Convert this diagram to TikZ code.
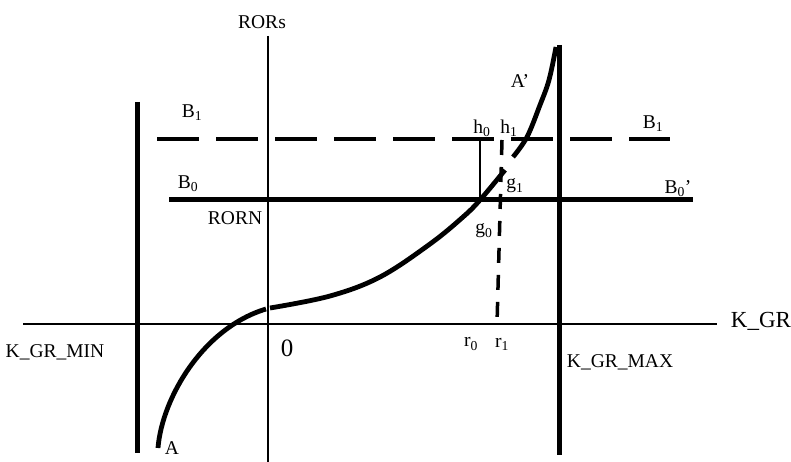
\documentclass[tikz,border=0pt]{standalone}
\usepackage{fontspec}
\setmainfont{Liberation Serif}
\begin{document}
\begin{tikzpicture}[x=1pt,y=-1pt,
  axisline/.style={line width=1.8pt},
  boundline/.style={line width=5pt},
  curveline/.style={line width=4.8pt},
  dashline/.style={line width=4.5pt, dash pattern=on 42pt off 17pt},
  rdash/.style={line width=3.5pt, dash pattern=on 15pt off 12pt},
  thinline/.style={line width=2.5pt},
  lbl/.style={inner sep=0pt, font=\fontsize{19.5}{22}\selectfont},
  biglbl/.style={inner sep=0pt, font=\fontsize{23}{26}\selectfont},
  zerolbl/.style={inner sep=0pt, font=\fontsize{25}{28}\selectfont},
]
\useasboundingbox (0,0) rectangle (791,462);
% key points
\coordinate (ytop) at (268,36);
\coordinate (ybot) at (268,462);
\coordinate (xl) at (23,324);
\coordinate (xr) at (717,324);
\coordinate (mintop) at (137,102);
\coordinate (minbot) at (137,453);
\coordinate (maxtop) at (559,45);
\coordinate (maxbot) at (559,455);
\coordinate (b0l) at (169,200);
\coordinate (b0r) at (693,200);
\coordinate (b1l) at (157,139);
\coordinate (b1r) at (670,139);
\coordinate (h0t) at (480,139);
\coordinate (h0b) at (480,200);
\coordinate (r1t) at (502,140);
\coordinate (r1b) at (497,324);
\coordinate (ca) at (158,448);
\coordinate (cy1) at (266,309);
\coordinate (cy2) at (270,308);
\coordinate (cg) at (505,170);
\coordinate (ch) at (513,157);
\coordinate (cap) at (556,47);
% axes
\draw[axisline] (ytop) -- (ybot);
\draw[axisline] (xl) -- (xr);
% bounds
\draw[boundline] (mintop) -- (minbot);
\draw[boundline] (maxtop) -- (maxbot);
% B lines
\draw[boundline] (b0l) -- (b0r);
\draw[dashline] (b1l) -- (b1r);
\draw[thinline] (h0t) -- (h0b);
\draw[rdash] (r1t) -- (r1b);
% curve
\draw[curveline] (ca) .. controls (162,398) and (203,328) .. (cy1);
\draw[curveline] plot[smooth, tension=0.6] coordinates {(cy2) (330,296) (380,277) (430,244) (463,217) (480,200) (cg)};
\draw[curveline] plot[smooth, tension=0.6] coordinates {(ch) (527,137) (540,105) (549,80) (cap)};
% labels
\node[lbl] (rors) at (262,22) {RORs};
\node[biglbl] (kgr) at (761,321) {K\_GR};
\node[lbl] (kgrmin) at (55,352) {K\_GR\_MIN};
\node[lbl] (kgrmax) at (620,362) {K\_GR\_MAX};
\node[zerolbl] (zero) at (287,348) {0};
\node[lbl] (r0) at (471,344) {r\textsubscript{0}};
\node[lbl] (r1) at (502,344) {r\textsubscript{1}};
\node[lbl] (b1a) at (192,113) {B\textsubscript{1}};
\node[lbl] (b1b) at (653,124) {B\textsubscript{1}};
\node[lbl] (b0a) at (188,184) {B\textsubscript{0}};
\node[lbl] (b0b) at (678,189) {B\textsubscript{0}’};
\node[lbl] (rorn) at (235,218) {RORN};
\node[lbl] (h0) at (482,128) {h\textsubscript{0}};
\node[lbl] (h1) at (509,128) {h\textsubscript{1}};
\node[lbl] (g1) at (515,186) {g\textsubscript{1}};
\node[lbl] (g0) at (484,231) {g\textsubscript{0}};
\node[lbl] (ap) at (520,81) {A’};
\node[lbl] (a) at (172,448) {A};
\end{tikzpicture}
\end{document}
